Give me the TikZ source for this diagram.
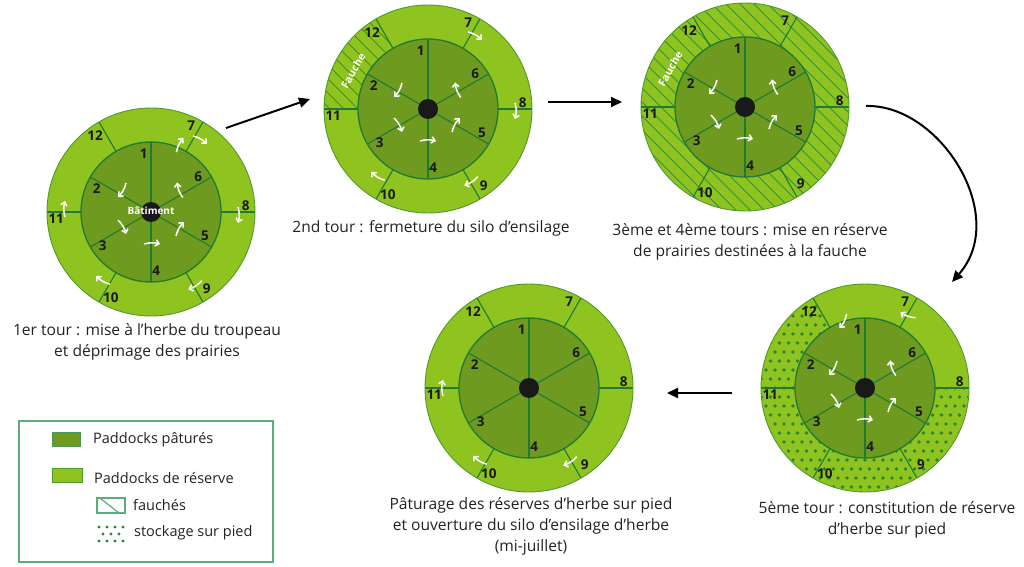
\documentclass[tikz,border=0pt]{standalone}
\usepackage{fontspec}
\setmainfont{Open Sans}
\usetikzlibrary{arrows.meta}
\definecolor{lgreen}{HTML}{8FC31F}
\definecolor{dgreen}{HTML}{6E9B1F}
\definecolor{lnc}{HTML}{1F7A32}
\definecolor{ringc}{HTML}{4E9A2A}
\definecolor{hatchc}{HTML}{3E8E2C}
\definecolor{dotc}{HTML}{2A8533}
\definecolor{txt}{HTML}{222222}
\definecolor{legc}{HTML}{5AAE78}
\tikzset{
  num/.style={font=\bfseries\fontsize{13.5}{14}\selectfont, text=black!90, inner sep=0pt},
  lbl/.style={font=\fontsize{15.6}{21}\selectfont, text=txt, align=center, inner sep=0pt},
  legtxt/.style={font=\fontsize{14.5}{16}\selectfont, text=txt, anchor=west, inner sep=0pt},
  fauchetxt/.style={font=\bfseries\fontsize{10.5}{11}\selectfont, text=white, inner sep=0pt},
  warrow/.style={white, line width=1.5pt, -{Straight Barb[length=3.5pt,width=6.5pt]}},
  bigarrow/.style={black, line width=2pt, -{Triangle[length=11pt,width=10pt]}},
  hatchline/.style={hatchc, line width=1pt},
}
\newcommand\outerdisk{\fill[lgreen] (0,0) circle (104);}
\newcommand\myhatchpat{\foreach \c in {-266,-252,...,266} \draw[hatchline] (\c+160,-160) -- (\c-160,160);}
\newcommand\mydotpat{%
  \foreach \i in {-13,...,13} {\foreach \j in {-7,...,7} {
    \fill[dotc] (\i*9,\j*18) circle (1.9);
    \fill[dotc] (\i*9+4.5,\j*18+9) circle (1.9);}}}
\newcommand\wedgeclip[2]{\clip (0,0) -- (#1:112) arc[start angle=#1, end angle=#2, radius=112] -- cycle;}
\newcommand\wheeltop[1]{%
  \filldraw[fill=dgreen, draw=lnc, line width=1.3pt] (0,0) circle (70);
  \foreach \a in {30,90,...,330} \draw[lnc, line width=1.1pt] (0,0) -- (\a:70);
  \foreach \a in {0,60,...,300} \draw[lnc, line width=1.1pt] (\a:70) -- (\a:104);
  \draw[ringc, line width=0.9pt] (0,0) circle (104);
  \foreach \a/\t in {97/1,157/2,215/3,275/4,336/5,37/6} \node[num] (#1n\t) at (\a:59) {\t};
  \foreach \a/\t in {65/7,4/8,306/9,245/10,184/11,126/12} \node[num] (#1n\t) at (\a:95) {\t};
}
\newcommand\hub{\fill[black!90] (0,0) circle (10);}
\newcommand\warr[3]{\begin{scope}[shift={(#1,#2)},rotate=#3]\draw[warrow] (-8,0) to[bend left=15] (8,0);\end{scope}}
\begin{document}
\begin{tikzpicture}[x=1pt,y=1pt]
\useasboundingbox (0,0) rectangle (1024,566);
\coordinate (c1) at (151,354);
\coordinate (c2) at (428,457);
\coordinate (c3) at (745,459);
\coordinate (c4) at (865,178);
\coordinate (c5) at (529,178);

% ---- wheel 1
\begin{scope}[shift={(c1)}]
  \outerdisk
  \wheeltop{w1}
  \hub
  \node[fauchetxt, font=\bfseries\fontsize{10}{10}\selectfont] (w1bat) at (0,1) {Bâtiment};
  \warr{-29}{22}{240}\warr{-29}{-15}{300}\warr{1}{-32}{0}\warr{29}{-17}{60}\warr{29}{22}{110}
  \warr{29}{67}{63}\warr{49}{72}{-30}\warr{87}{-3}{-90}\warr{44}{-73}{212}\warr{-48}{-68}{148}\warr{-86}{3}{90}
\end{scope}

% ---- wheel 2
\begin{scope}[shift={(c2)}]
  \outerdisk
  \begin{scope}\clip (0,0) circle (104); \wedgeclip{120}{180} \myhatchpat \end{scope}
  \wheeltop{w2}
  \hub
  \node[fauchetxt, rotate=60] (w2f) at (153:84) {Fauche};
  \warr{-30}{19}{240}\warr{-30}{-16}{300}\warr{0}{-32}{0}\warr{28}{-16}{60}\warr{30}{19}{110}
  \warr{47}{73}{-30}\warr{87}{-2}{-90}\warr{43}{-72}{212}\warr{-50}{-67}{148}
\end{scope}

% ---- wheel 3
\begin{scope}[shift={(c3)}]
  \outerdisk
  \begin{scope}\clip (0,0) circle (104); \myhatchpat \end{scope}
  \wheeltop{w3}
  \hub
  \node[fauchetxt, rotate=60] (w3f) at (153:84) {Fauche};
  \warr{-32}{20}{240}\warr{-30}{-15}{300}\warr{0}{-32}{0}\warr{28}{-15}{60}\warr{30}{20}{110}
\end{scope}

% ---- wheel 4 (5eme tour)
\begin{scope}[shift={(c4)}]
  \outerdisk
  \begin{scope}\clip (0,0) circle (104); \wedgeclip{120}{360} \mydotpat \end{scope}
  \wheeltop{w4}
  \hub
  \warr{-22}{67}{243}\warr{43}{73}{160}
  \warr{-32}{20}{240}\warr{-30}{-13}{300}\warr{0}{-32}{0}\warr{27}{-17}{60}\warr{28}{20}{110}
\end{scope}

% ---- wheel 5
\begin{scope}[shift={(c5)}]
  \outerdisk
  \wheeltop{w5}
  \hub
  \warr{-86}{0}{90}\warr{-49}{-72}{148}\warr{41}{-73}{212}
\end{scope}

% ---- connectors
\coordinate (a1s) at (226,438); \coordinate (a1e) at (310,467);
\coordinate (a2s) at (548,464); \coordinate (a2e) at (622,464);
\coordinate (a3s) at (866,460); \coordinate (a3e) at (952,284);
\coordinate (a4s) at (732,173); \coordinate (a4e) at (667,173);
\draw[bigarrow] (a1s) -- (a1e);
\draw[bigarrow] (a2s) -- (a2e);
\draw[bigarrow] (a3s) .. controls (940,462) and (1010,350) .. (a3e);
\draw[bigarrow] (a4s) -- (a4e);

% ---- captions
\node[lbl] (t1) at (147,224) {1er tour : mise à l'herbe du troupeau\\et déprimage des prairies};
\node[lbl] (t2) at (431,338) {2nd tour : fermeture du silo d'ensilage};
\node[lbl] (t3) at (750,324.5) {3ème et 4ème tours : mise en réserve\\de prairies destinées à la fauche};
\node[lbl] (t4) at (531,39.5) {Pâturage des réserves d'herbe sur pied\\et ouverture du silo d'ensilage d'herbe\\(mi-juillet)};
\node[lbl] (t5) at (887,46.5) {5ème tour : constitution de réserve\\d'herbe sur pied};

% ---- legend
\draw[legc, line width=1.5pt] (19,4) rectangle (273,145);
\filldraw[fill=dgreen, draw=lnc!80, line width=1pt] (52,120) rectangle (80,134);
\node[legtxt] (l1) at (93,126) {Paddocks pâturés};
\filldraw[fill=lgreen, draw=ringc, line width=1pt] (52,84) rectangle (82,98);
\node[legtxt] (l2) at (94,88) {Paddocks de réserve};
\draw[legc, line width=1.2pt] (97,53) rectangle (125,68);
\draw[legc, line width=1.2pt] (100,68) -- (119,53);
\node[legtxt] (l3) at (133,61) {fauchés};
\foreach \x in {99,107,115,123} {\fill[dotc] (\x,39) circle (1.7); \fill[dotc] (\x,25) circle (1.7);}
\foreach \x in {103,111,119} \fill[dotc] (\x,32) circle (1.7);
\node[legtxt] (l4) at (134,33) {stockage sur pied};
\end{tikzpicture}
\end{document}
